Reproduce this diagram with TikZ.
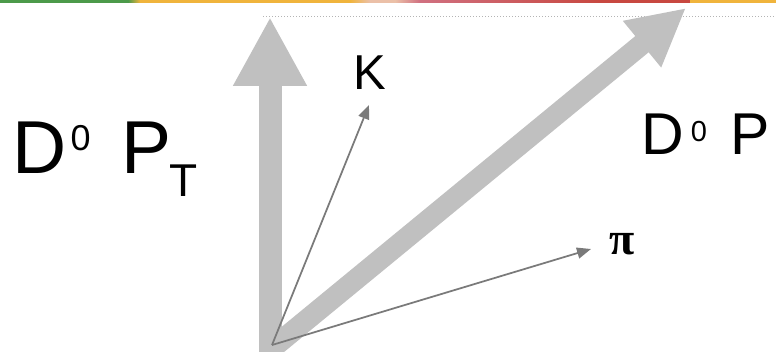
\documentclass[tikz,border=0pt]{standalone}
\usepackage{fontspec}
\setmainfont{Liberation Sans}
\newfontfamily\greekfont{Liberation Serif}
\usetikzlibrary{arrows.meta}
\definecolor{thickgray}{HTML}{C0C0C0}
\definecolor{thingray}{HTML}{7A7A7A}
\definecolor{dotgray}{HTML}{B4B4B4}
\definecolor{barGreen}{HTML}{4C9A4A}
\definecolor{barYellow}{HTML}{F0B43C}
\definecolor{barPeach}{HTML}{EBC0A8}
\definecolor{barPink}{HTML}{D07080}
\definecolor{barRed}{HTML}{C84840}
\tikzset{
  bigvec/.style={draw=thickgray, line width=#1},
  smallvec/.style={draw=thingray, line width=1.75pt, -{Triangle[width=11pt,length=14pt]}},
  lbl/.style={inner sep=0pt, outer sep=0pt, anchor=base west, text=black},
  dotline/.style={draw=dotgray, line width=1pt, dash pattern=on 1pt off 2pt}
}
\begin{document}
\begin{tikzpicture}[x=1pt,y=-1pt]
\useasboundingbox (0,0) rectangle (776,352);
% top colour strip
\fill[barGreen] (0,0) rectangle (128,2.7);
\shade[left color=barGreen, right color=barYellow] (128,0) rectangle (140,2.7);
\fill[barYellow] (140,0) rectangle (350,2.7);
\shade[left color=barYellow, right color=barPeach] (350,0) rectangle (370,2.7);
\fill[barPeach] (370,0) rectangle (395,2.7);
\shade[left color=barPeach, right color=barPink] (395,0) rectangle (420,2.7);
\shade[left color=barPink, right color=barRed] (420,0) rectangle (600,2.7);
\fill[barRed] (600,0) rectangle (690,2.7);
\fill[barYellow] (690,0) rectangle (776,2.7);
% coordinates
\coordinate (base) at (270,352);
\coordinate (dbase) at (270,350);
\coordinate (ptTip) at (270,17);
\coordinate (pTip) at (686,8);
\coordinate (orig) at (272,345);
\coordinate (kTip) at (369,105);
\coordinate (piTip) at (591,249);
\coordinate (dotA) at (263,17);
\coordinate (dotB) at (776,17);
% dotted guide line
\draw[dotline] (dotA) -- (dotB);
% thick vectors
\draw[bigvec=23pt, -{Triangle[width=69pt,length=69pt]}] (base) -- (ptTip);
\draw[bigvec=21pt, -{Triangle[width=56pt,length=57pt]}] (dbase) -- (pTip);
% thin vectors
\draw[smallvec] (orig) -- (kTip);
\draw[smallvec] (orig) -- (piTip);
% labels
\node[lbl, font=\fontsize{75}{80}\selectfont] (lD) at (12.2,174) {D};
\node[lbl, font=\fontsize{36}{40}\selectfont] (l0) at (70.5,151) {0};
\node[lbl, font=\fontsize{75}{80}\selectfont] (lP) at (121.2,174) {P};
\node[lbl, font=\fontsize{46}{50}\selectfont] (lT) at (169,197) {T};
\node[lbl, font=\fontsize{59}{64}\selectfont] (rD) at (641.5,155) {D};
\node[lbl, font=\fontsize{29}{32}\selectfont] (r0) at (690.8,142) {0};
\node[lbl, font=\fontsize{59}{64}\selectfont] (rP) at (730.5,155) {P};
\node[lbl, font=\fontsize{49}{54}\selectfont] (kL) at (353.4,90) {K};
\node[inner sep=0pt, anchor=base, font=\greekfont\bfseries\fontsize{46}{50}\selectfont] (piL) at (622.5,255) {π};
\end{tikzpicture}
\end{document}
